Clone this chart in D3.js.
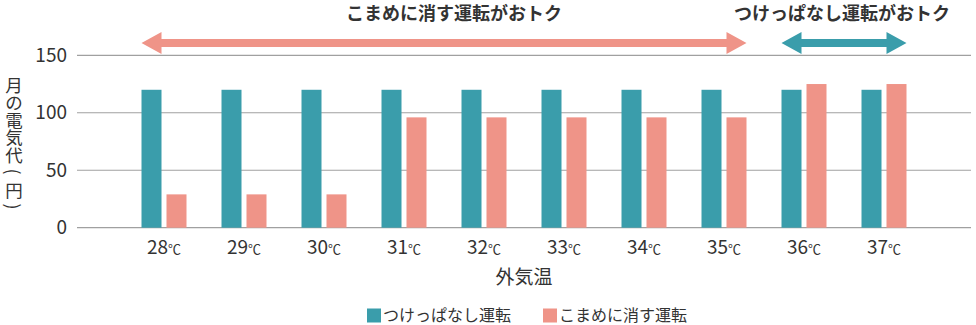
<!DOCTYPE html>
<html lang="ja">
<head>
<meta charset="utf-8">
<script src="https://cdn.jsdelivr.net/npm/d3@7"></script>
<style>
  html, body { margin: 0; padding: 0; background: #fff; }
  svg { display: block; font-family: "Noto Sans CJK JP", "Noto Sans", sans-serif; }
</style>
</head>
<body>
<svg id="chart" width="976" height="325"></svg>
<script>
// Outdoor temperature categories (°C)
const temps = ["28", "29", "30", "31", "32", "33", "34", "35", "36", "37"];
// Monthly electricity cost (yen): leaving the AC on all the time
const alwaysOn = [120, 120, 120, 120, 120, 120, 120, 120, 120, 120];
// Monthly electricity cost (yen): switching the AC off frequently
const switchOff = [29, 29, 29, 96, 96, 96, 96, 96, 125, 125];
const yTicks = [0, 50, 100, 150];
const seriesNames = ["つけっぱなし運転", "こまめに消す運転"];
const colors = ["#3a9dab", "#ef9488"];
// Vertical axis title, one glyph per line
const yTitleChars = ["月", "の", "電", "気", "代", "(", "円", ")"];
// Ranges of temperatures where each mode is cheaper
const cheaperRanges = [
  { label: "こまめに消す運転がおトク", from: "28", to: "35", color: colors[1] },
  { label: "つけっぱなし運転がおトク", from: "36", to: "37", color: colors[0] }
];

const svg = d3.select("#chart");
const plotLeft = 77, plotRight = 971, plotTop = 55.3, plotBottom = 227.7;
const textColor = "#333";

const x = d3.scaleBand().domain(temps).range([plotLeft, plotRight])
  .paddingInner(0).paddingOuter(0.5875);
const barW = 20, gap = 5;
const y = d3.scaleLinear().domain([0, 150]).range([plotBottom, plotTop]);

// Grid lines
svg.append("g").selectAll("line").data(yTicks).join("line")
  .attr("x1", plotLeft).attr("x2", plotRight)
  .attr("y1", d => y(d)).attr("y2", d => y(d))
  .attr("stroke", "#a0a0a0").attr("stroke-width", 1.2);

// Y axis tick labels
const yAxis = d3.axisLeft(y).tickValues(yTicks).tickSize(0).tickPadding(10);
svg.append("g").attr("transform", `translate(${plotLeft},0)`).call(yAxis)
  .call(g => g.select(".domain").remove())
  .call(g => g.selectAll("text")
    .attr("font-size", 19).attr("fill", textColor)
    .attr("font-family", "'Noto Sans CJK JP', sans-serif"));

// Bars
const series = [alwaysOn, switchOff];
series.forEach((vals, si) => {
  svg.append("g").selectAll("rect").data(temps).join("rect")
    .attr("x", (d) => x(d) + x.bandwidth() / 2 + (si === 0 ? -(barW + gap / 2) : gap / 2))
    .attr("y", (d, i) => y(vals[i]))
    .attr("width", barW)
    .attr("height", (d, i) => y(0) - y(vals[i]))
    .attr("fill", colors[si]);
});

// X tick labels with small ℃
const xl = svg.append("g").selectAll("text").data(temps).join("text")
  .attr("x", d => x(d) + x.bandwidth() / 2)
  .attr("y", 254)
  .attr("text-anchor", "middle")
  .attr("fill", textColor)
  .attr("font-size", 19);
xl.append("tspan").text(d => d);
xl.append("tspan").attr("font-size", 13).text("℃");

// X axis title
svg.append("text")
  .attr("x", (plotLeft + plotRight) / 2).attr("y", 284)
  .attr("text-anchor", "middle").attr("fill", textColor)
  .attr("font-size", 19).text("外気温");

// Y axis title, stacked vertically; brackets turned a quarter turn
const yTitleX = 14, yTitleY0 = 84, yTitleStep = 17.5;
const isBracket = d => d === "(" || d === ")";
svg.append("g").selectAll("text").data(yTitleChars).join("text")
  .attr("transform", (d, i) => {
    const cy = yTitleY0 + i * yTitleStep;
    return `translate(${yTitleX},${cy}) rotate(${isBracket(d) ? 90 : 0})`;
  })
  .attr("text-anchor", "middle")
  .attr("dominant-baseline", "central")
  .attr("fill", textColor)
  .attr("font-size", d => isBracket(d) ? 18 : 17.5)
  .text(d => d);

// Double-headed arrows with headings
const arrowY = 43, shaft = 8, headLen = 20, headH = 22;
cheaperRanges.forEach(r => {
  const x0 = x(r.from) + x.bandwidth() / 2 - (barW + gap / 2);
  const x1 = x(r.to) + x.bandwidth() / 2 + (barW + gap / 2);
  const p = d3.path();
  p.moveTo(x0, arrowY);
  p.lineTo(x0 + headLen, arrowY - headH / 2);
  p.lineTo(x0 + headLen, arrowY - shaft / 2);
  p.lineTo(x1 - headLen, arrowY - shaft / 2);
  p.lineTo(x1 - headLen, arrowY - headH / 2);
  p.lineTo(x1, arrowY);
  p.lineTo(x1 - headLen, arrowY + headH / 2);
  p.lineTo(x1 - headLen, arrowY + shaft / 2);
  p.lineTo(x0 + headLen, arrowY + shaft / 2);
  p.lineTo(x0 + headLen, arrowY + headH / 2);
  p.closePath();
  svg.append("path").attr("d", p.toString()).attr("fill", r.color);
  svg.append("text")
    .attr("x", (x0 + x1) / 2 + (r.from === "28" ? 10 : -2)).attr("y", 20)
    .attr("text-anchor", "middle")
    .attr("font-size", 18).attr("font-weight", "bold")
    .attr("fill", textColor).text(r.label);
});

// Legend
const legend = svg.append("g");
const legendItems = [{ x: 367, name: seriesNames[0], c: colors[0] },
                     { x: 543, name: seriesNames[1], c: colors[1] }];
legendItems.forEach(it => {
  legend.append("rect").attr("x", it.x).attr("y", 308.5)
    .attr("width", 14).attr("height", 14).attr("fill", it.c);
  legend.append("text").attr("x", it.x + 16).attr("y", 321)
    .attr("font-size", 16).attr("fill", textColor).text(it.name);
});
</script>
</body>
</html>
